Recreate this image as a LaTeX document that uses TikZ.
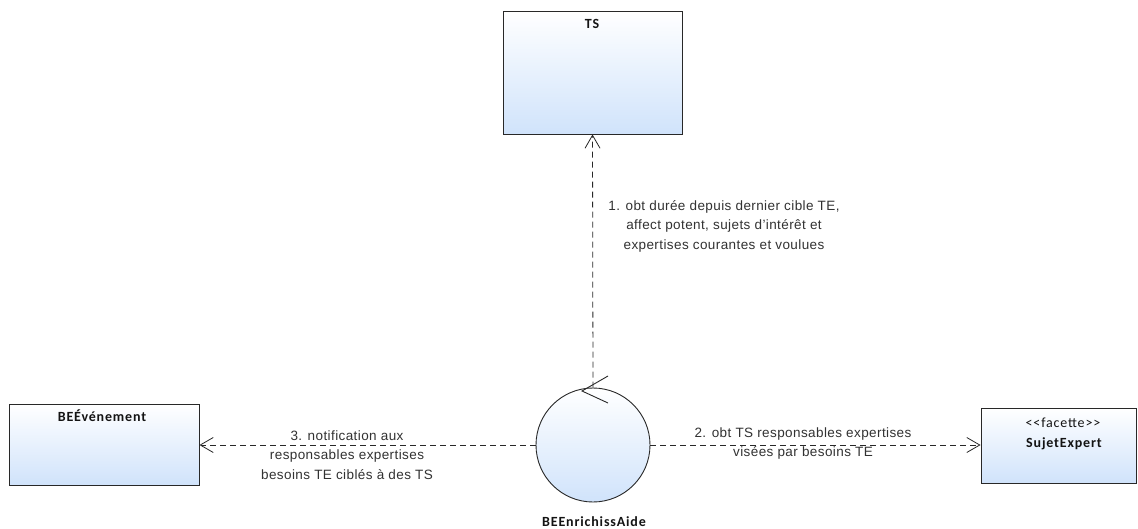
\documentclass[tikz,border=0pt]{standalone}
\usepackage{fontspec}
\setmainfont{Liberation Sans}[LetterSpace=3]
\newfontfamily\carl{Carlito}[LetterSpace=6]
\usetikzlibrary{arrows.meta,shapes.geometric}
\definecolor{boxbot}{RGB}{208,227,251}
\definecolor{linec}{RGB}{40,40,40}
\definecolor{txtc}{RGB}{50,50,50}
\definecolor{ttlc}{RGB}{20,20,20}
\begin{document}
\begin{tikzpicture}[x=1pt,y=-1pt,
  cls/.style={rectangle, draw=linec, line width=0.9pt, top color=white, bottom color=boxbot, inner sep=0pt},
  ctl/.style={circle, draw=linec, line width=0.9pt, top color=white, bottom color=boxbot, inner sep=0pt, minimum size=114pt},
  ttl/.style={font=\carl\bfseries\fontsize{14}{16}\selectfont, text=ttlc, inner sep=0pt, anchor=base},
  ster/.style={font=\carl\fontsize{14}{16}\selectfont, text=ttlc, inner sep=0pt, anchor=base},
  lbl/.style={font=\fontsize{13.5}{19.5}\selectfont, text=txtc, align=center, inner sep=0pt},
  dep/.style={draw=linec, line width=0.8pt, dash pattern=on 6pt off 4pt, -{Straight Barb[length=13pt,width=15pt]}}
]
\useasboundingbox (0,0) rectangle (1138,529);
\fill[white] (0,0) rectangle (1138,529);

% class boxes
\node[cls, minimum width=179pt, minimum height=123pt] (ts) at (592.5,72.5) {};
\node[ttl] (tsT) at (592,29) {TS};

\node[cls, minimum width=190pt, minimum height=81pt] (bee) at (104,444.5) {};
\node[ttl] (beeT) at (102,421) {BEÉvénement};

\node[cls, minimum width=155pt, minimum height=75pt] (se) at (1058.5,445.5) {};
\node[ster] (seS) at (1063,427) {<<facette>>};
\node[ttl] (seT) at (1064,447) {SujetExpert};

% control
\node[ctl] (c) at (593,445) {};
\node[ttl] (cT) at (594,526) {BEEnrichissAide};
\coordinate (ca) at (608,376);
\coordinate (ct) at (582,391);
\coordinate (cb) at (608,403);
\draw[linec, line width=0.9pt] (ca) -- (ct) -- (cb);

% dependencies
\draw[dep] (c.north) -- (ts.south);
\draw[dep] (c.west) -- (c.west -| bee.east);
\draw[dep] (c.east) -- (c.east -| se.west);

% labels
\node[lbl] (l1) at (724,226) {1. obt durée depuis dernier cible TE,\\affect potent, sujets d'intérêt et\\expertises courantes et voulues};
\node[lbl] (l3) at (347,455) {3. notification aux\\responsables expertises\\besoins TE ciblés à des TS};
\node[lbl] (l2) at (803,443.5) {2. obt TS responsables expertises\\visées par besoins TE};
\end{tikzpicture}
\end{document}
